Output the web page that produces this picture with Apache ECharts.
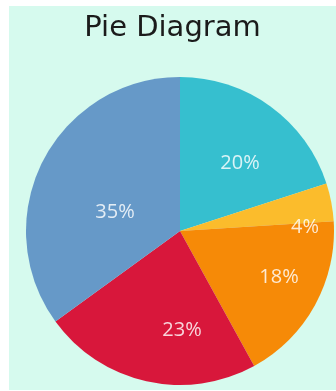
<!DOCTYPE html>
<html>
<head>
<meta charset="utf-8">
<script src="https://cdn.jsdelivr.net/npm/echarts@6/dist/echarts.min.js"></script>
<style>
  html, body { margin: 0; padding: 0; background: #ffffff; }
  #chart { position: absolute; left: 9px; top: 6px; width: 327px; height: 384px; background: #d6faee; }
</style>
</head>
<body>
<div id="chart"></div>
<script>
// Share of each segment, in percent, drawn clockwise from 12 o'clock
const categories = ['A', 'B', 'C', 'D', 'E'];
const shares = [20, 4, 18, 23, 35];
const sliceColors = ['#36bfcf', '#fbbc2c', '#f68a07', '#d8173b', '#6699c8'];

// Label anchors, offset from the pie centre in pixels
const labelOffsets = [[60, -68], [125, -4], [99, 46], [2, 99], [-65, -19]];

const centre = [171, 225];
const radius = 154;

const chart = echarts.init(document.getElementById('chart'), null, { renderer: 'canvas' });

chart.setOption({
  backgroundColor: '#d6faee',
  title: {
    text: 'Pie Diagram',
    left: 'center',
    top: 3,
    textStyle: { fontFamily: 'DejaVu Sans', fontWeight: 'normal', fontSize: 29, color: '#1b1b1b' }
  },
  series: [{
    type: 'pie',
    center: centre,
    radius: radius,
    startAngle: 90,
    clockwise: true,
    animation: false,
    silent: true,
    itemStyle: { borderWidth: 0 },
    label: {
      show: true,
      position: 'inside',
      formatter: '{c}%',
      color: 'rgba(255,255,255,0.82)',
      fontFamily: 'Open Sans',
      fontSize: 20
    },
    labelLine: { show: false },
    labelLayout: function (params) {
      const off = labelOffsets[params.dataIndex];
      return {
        x: centre[0] + off[0],
        y: centre[1] + off[1],
        align: 'center',
        verticalAlign: 'middle'
      };
    },
    data: categories.map((name, i) => ({
      name: name,
      value: shares[i],
      itemStyle: { color: sliceColors[i] }
    }))
  }]
});
</script>
</body>
</html>
